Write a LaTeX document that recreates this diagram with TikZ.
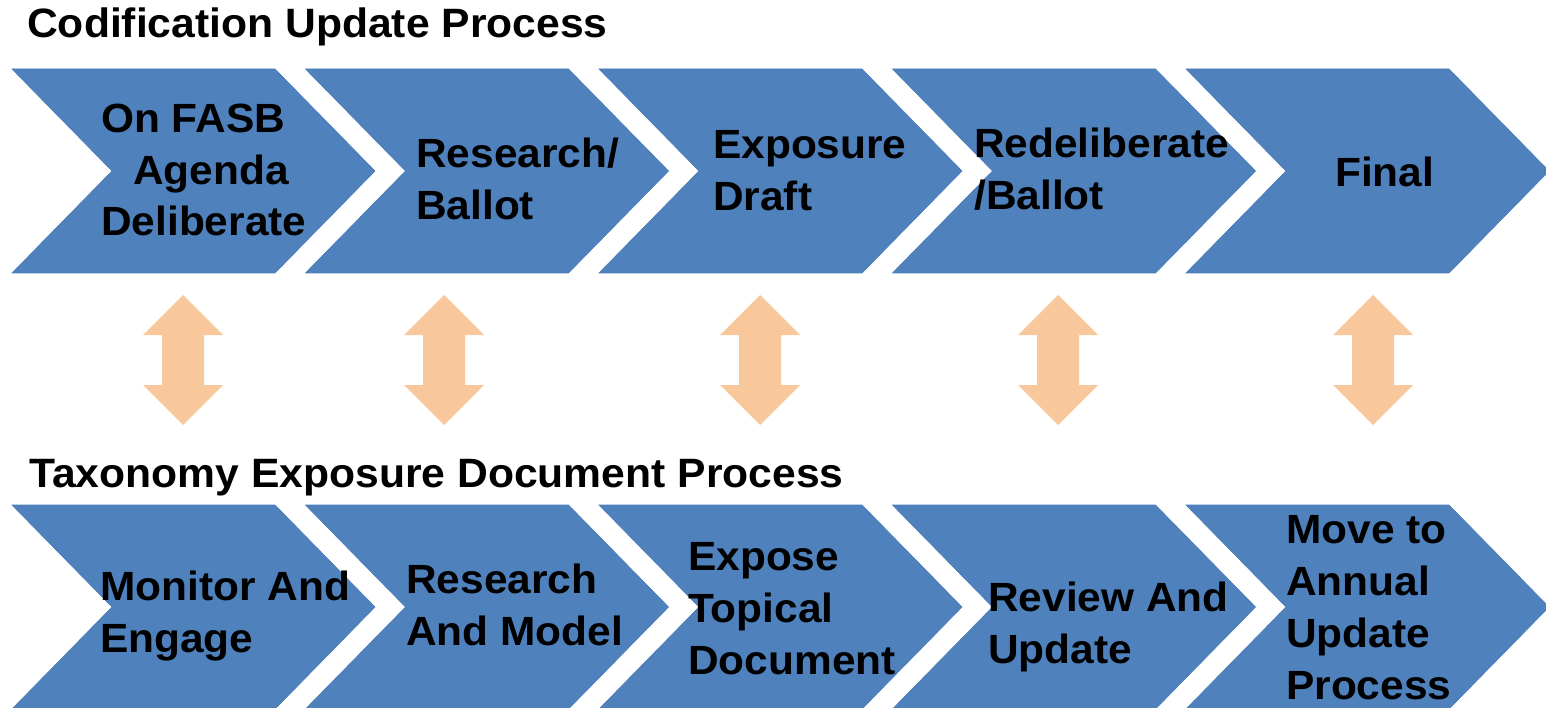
\documentclass[tikz,border=0pt]{standalone}
\usepackage{fontspec}
\newfontfamily\af{Liberation Sans}[FakeStretch=1.04]
\definecolor{chev}{HTML}{4F81BD}
\definecolor{chevline}{HTML}{4A7CB8}
\definecolor{arr}{HTML}{F9C79C}
\begin{document}
\begin{tikzpicture}[x=1pt,y=-1pt,
  chevron/.style={fill=chev,draw=chevline,line width=0.6pt},
  dblarrow/.style={fill=arr},
  ttl/.style={anchor=base west,inner sep=0,font=\af\bfseries\fontsize{41}{48}\selectfont},
  lbl/.style={anchor=base west,inner sep=0,align=left,font=\af\bfseries\fontsize{40.8}{52}\selectfont}]
\useasboundingbox (0,0) rectangle (1546,708);
% chevrons
\foreach \i in {0,...,4}{
  \pgfmathsetmacro\L{12+293.5*\i}
  \draw[chevron] (\L,69) -- ++(263,0) -- ++(100,102) -- ++(-100,102) -- ++(-263,0) -- ++(100,-102) -- cycle;
  \draw[chevron] (\L,505) -- ++(263,0) -- ++(100,102) -- ++(-100,102) -- ++(-263,0) -- ++(100,-102) -- cycle;
}
% double arrows
\foreach \c in {183,444,760,1058,1373}{
  \fill[dblarrow] (\c,295) -- (\c+40,335) -- (\c+21,335) -- (\c+21,385) -- (\c+40,385) -- (\c,425)
     -- (\c-40,385) -- (\c-21,385) -- (\c-21,335) -- (\c-40,335) -- cycle;
}
% titles
\node[ttl] (t1) at (27,38) {Codification Update Process};
\node[ttl] (t2) at (29,487) {Taxonomy Exposure Document Process};
% top row labels (anchor = baseline of last line)
\node[lbl] (a1) at (101,236) {On FASB\\\hspace*{32pt}Agenda\\[-1pt]Deliberate};
\node[lbl] (a2) at (416,220) {Research/\\Ballot};
\node[lbl] (a3) at (713,211) {Exposure\\Draft};
\node[lbl] (a4) at (974,210) {Redeliberate\\/Ballot};
\node[lbl] (a5) at (1335,187) {Final};
% bottom row labels
\node[lbl] (b1) at (100,652) {Monitor And\\Engage};
\node[lbl] (b2) at (406,645) {Research\\And Model};
\node[lbl] (b3) at (688,674) {Expose\\Topical\\Document};
\node[lbl] (b4) at (988,663) {Review And\\Update};
\node[lbl] (b5) at (1286,699) {Move to\\Annual\\Update\\Process};
\end{tikzpicture}
\end{document}
